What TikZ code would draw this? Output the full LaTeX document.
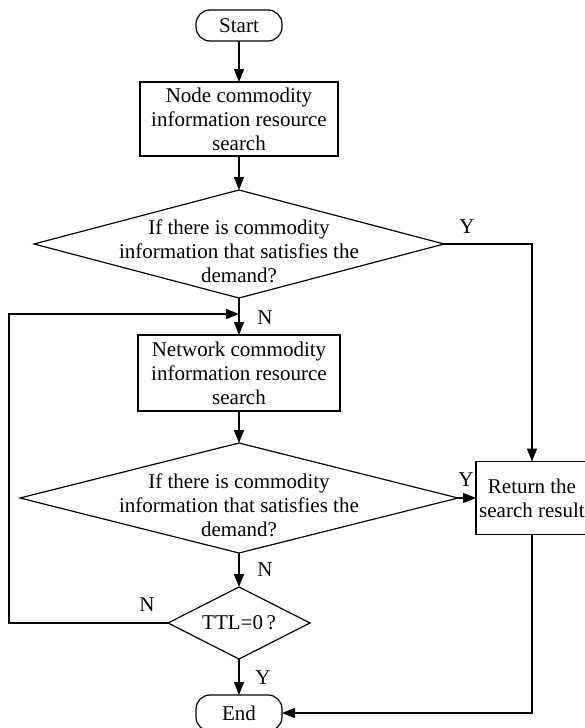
\documentclass[tikz,border=0pt]{standalone}
\usepackage{fontspec}
\setmainfont{Liberation Serif}
\usetikzlibrary{shapes.geometric,arrows.meta}
\tikzset{
  base/.style={font=\fontsize{21}{24}\selectfont, align=center, inner sep=0pt, outer sep=0pt},
  term/.style={base, draw, line width=1.2pt, rounded corners=14pt, minimum width=86pt},
  procbox/.style={base, draw, line width=1.2pt},
  decis/.style={draw, line width=1.2pt, shape=diamond, inner sep=0pt, outer sep=0pt},
  txt/.style={base},
  lbl/.style={base},
  arr/.style={line width=1.2pt, -{Triangle[length=13pt,width=10pt]}},
}
\begin{document}
\begin{tikzpicture}[x=1pt,y=-1pt]
\useasboundingbox[fill=white] (0,0) rectangle (585,728);
% nodes
\node[term, minimum height=31pt] (start) at (239,25.5) {Start};
\node[procbox, minimum width=198pt, minimum height=74pt] (box1) at (239,119) {Node commodity\\information resource\\search};
\node[decis, minimum width=410pt, minimum height=108pt] (d1) at (239,244) {};
\node[txt] (d1t) at (239,251) {If there is commodity\\information that satisfies the\\demand?};
\node[procbox, minimum width=202pt, minimum height=76pt] (box2) at (239,373) {Network commodity\\information resource\\search};
\node[decis, minimum width=438pt, minimum height=110pt] (d2) at (239,498) {};
\node[txt] (d2t) at (239,505) {If there is commodity\\information that satisfies the\\demand?};
\node[procbox, minimum width=112pt, minimum height=73pt] (ret) at (532,498) {Return the\\search result};
\node[decis, minimum width=142pt, minimum height=72pt] (ttl) at (239,623) {};
\node[txt] (ttlt) at (239,623) {TTL=0\,?};
\node[term, minimum height=36pt] (end) at (239,713) {End};
% labels
\node[lbl] (y1) at (467,227) {Y};
\node[lbl] (n1) at (265,318) {N};
\node[lbl] (y2) at (466,480) {Y};
\node[lbl] (n2) at (265,570) {N};
\node[lbl] (n3) at (147,605) {N};
\node[lbl] (y3) at (263,678) {Y};
% helper coordinates
\coordinate (loopx) at (9,314);
\coordinate (loopin) at (239,314);
% connectors
\draw[arr] (start) -- (box1);
\draw[arr] (box1) -- (d1.north);
\draw[arr] (d1.south) -- (box2.north);
\draw[arr] (d1.east) -| (ret.north);
\draw[arr] (box2) -- (d2.north);
\draw[arr] (d2.east) -- (ret.west);
\draw[arr] (d2.south) -- (ttl.north);
\draw[arr] (ttl.west) -| (loopx) -- (loopin);
\draw[arr] (ttl.south) -- (end.north);
\draw[arr] (ret.south) |- (end.east);
\end{tikzpicture}
\end{document}
